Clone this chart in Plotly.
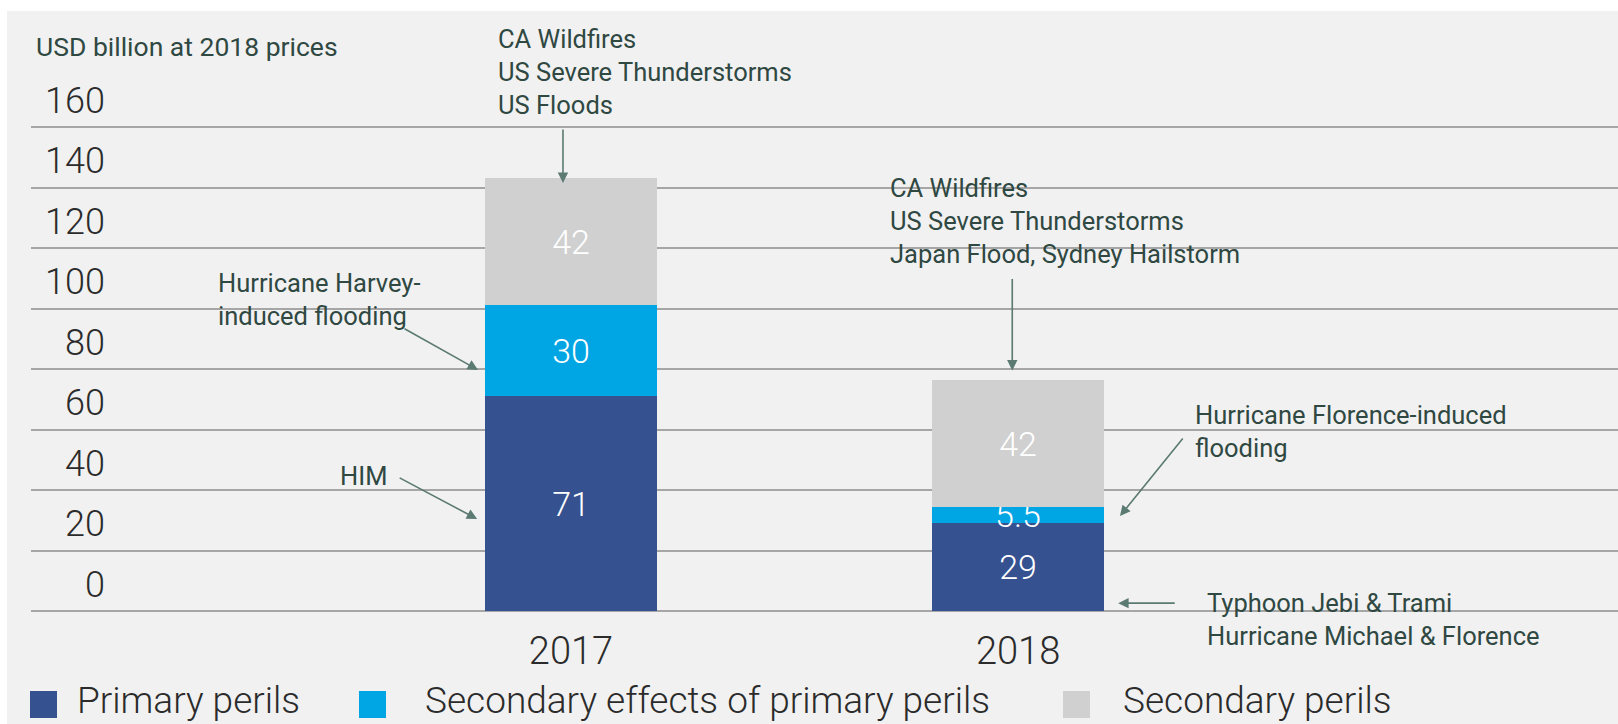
import plotly.graph_objects as go

# ---- data (USD billion at 2018 prices) ----
years = ["2017", "2018"]
primary_perils = [71, 29]
secondary_effects = [30, 5.5]
secondary_perils = [42, 42]
y_ticks = [0, 20, 40, 60, 80, 100, 120, 140, 160]

series_names = ["Primary perils", "Secondary effects of primary perils", "Secondary perils"]
series_values = [primary_perils, secondary_effects, secondary_perils]
series_colors = ["#36518f", "#00a5e3", "#d0d0d0"]

# ---- canvas geometry ----
W, H = 1618, 724
M_L, M_R, M_T, M_B = 31, 0, 117, 103
PW, PH = W - M_L - M_R, H - M_T - M_B
PAD_UNITS = 10 / 3.025          # 10 px of headroom above 160 and below 0
Y_RANGE = [-PAD_UNITS, y_ticks[-1] + PAD_UNITS]


def fx(x):
    """pixel x -> paper fraction"""
    return (x - M_L) / PW


def fy(y):
    """pixel y (from top) -> paper fraction"""
    return (H - M_B - y) / PH


LIGHT = dict(family="Roboto", weight=300)
NOTE_FONT = dict(family="Roboto", size=25.5, color="#2f4842")
ARROW_COLOR = "#5b7a72"

fig = go.Figure()

for name, vals, col in zip(series_names, series_values, series_colors):
    fig.add_trace(go.Bar(
        x=years, y=vals, name=name,
        marker=dict(color=col, line=dict(width=0)),
        width=0.385,
        texttemplate="%{y}",
        textposition="inside",
        insidetextanchor="middle",
        textangle=0,
        constraintext="none",
        textfont=dict(color="white", size=34, **LIGHT),
        showlegend=False,
        hoverinfo="skip",
    ))

totals = [a + b + c for a, b, c in zip(primary_perils, secondary_effects, secondary_perils)]

annotations = []

# axis caption
annotations.append(dict(xref="paper", yref="paper", x=fx(34), y=fy(46),
                        xanchor="left", yanchor="middle", showarrow=False,
                        text="USD billion at 2018 prices",
                        font=dict(family="Roboto", size=26.5, color="#2f4842")))

# callout texts
notes = [
    ("CA Wildfires<br>US Severe Thunderstorms<br>US Floods", 496, 72),
    ("Hurricane Harvey-<br>induced flooding", 216, 299),
    ("HIM", 338, 476),
    ("CA Wildfires<br>US Severe Thunderstorms<br>Japan Flood, Sydney Hailstorm", 888, 221),
    ("Hurricane Florence-induced<br>flooding", 1193, 431),
    ("Typhoon Jebi &amp; Trami<br>Hurricane Michael &amp; Florence", 1205, 619),
]
for txt, x, y in notes:
    annotations.append(dict(xref="paper", yref="paper", x=fx(x), y=fy(y),
                            xanchor="left", yanchor="middle", align="left",
                            showarrow=False, text=txt, font=NOTE_FONT))

# callout arrows: tip in data space (category index + offset), tail offset in pixels
arrows = [
    (0 - 0.018, totals[0] - 1.5, 0, -55),
    (0 - 0.208, 79.7, -75, -42),
    (0 - 0.21, 30.4, -79, -42),
    (1 - 0.013, totals[1] + 3, 0, -93),
    (1 + 0.228, 31.4, 64, -79),
    (1 + 0.224, 2.6, 58, 0),
]
for x, y, ax, ay in arrows:
    annotations.append(dict(xref="x", yref="y", x=x, y=y, ax=ax, ay=ay,
                            text="", showarrow=True, arrowhead=2, arrowsize=1.3,
                            arrowwidth=1.6, arrowcolor=ARROW_COLOR, standoff=0))

# legend row
legend_items = [(30, 77), (359, 425), (1063, 1123)]
shapes = [dict(type="rect", xref="paper", yref="paper", layer="below",
               x0=fx(7), x1=fx(W), y0=fy(H), y1=fy(11),
               fillcolor="#f1f1f1", line=dict(width=0))]
for (sx, tx), name, col in zip(legend_items, series_names, series_colors):
    shapes.append(dict(type="rect", xref="paper", yref="paper",
                       x0=fx(sx), x1=fx(sx + 27), y0=fy(718), y1=fy(691),
                       fillcolor=col, line=dict(width=0)))
    annotations.append(dict(xref="paper", yref="paper", x=fx(tx - 2), y=fy(700),
                            xanchor="left", yanchor="middle", showarrow=False,
                            text=name, font=dict(size=37, color="#2b2b2b", **LIGHT)))

fig.update_layout(
    width=W, height=H,
    margin=dict(l=M_L, r=M_R, t=M_T, b=M_B, pad=0),
    paper_bgcolor="white",
    plot_bgcolor="rgba(0,0,0,0)",
    barmode="stack",
    bargap=0,
    annotations=annotations,
    shapes=shapes,
    showlegend=False,
    xaxis=dict(range=[-1.208, 2.342], showgrid=False, zeroline=False,
               showline=False, ticks="", fixedrange=True,
               tickfont=dict(size=38, color="#2b2b2b", **LIGHT),
               ticklabelstandoff=4),
    yaxis=dict(range=Y_RANGE, tickvals=y_ticks, showgrid=True,
               gridcolor="#a6a6a6", gridwidth=2, zeroline=False,
               showline=False, ticks="",
               tickfont=dict(size=36, color="#2b2b2b", **LIGHT),
               ticklabelstandoff=-75, ticklabelshift=-27),
)

fig.write_html("out.html")
